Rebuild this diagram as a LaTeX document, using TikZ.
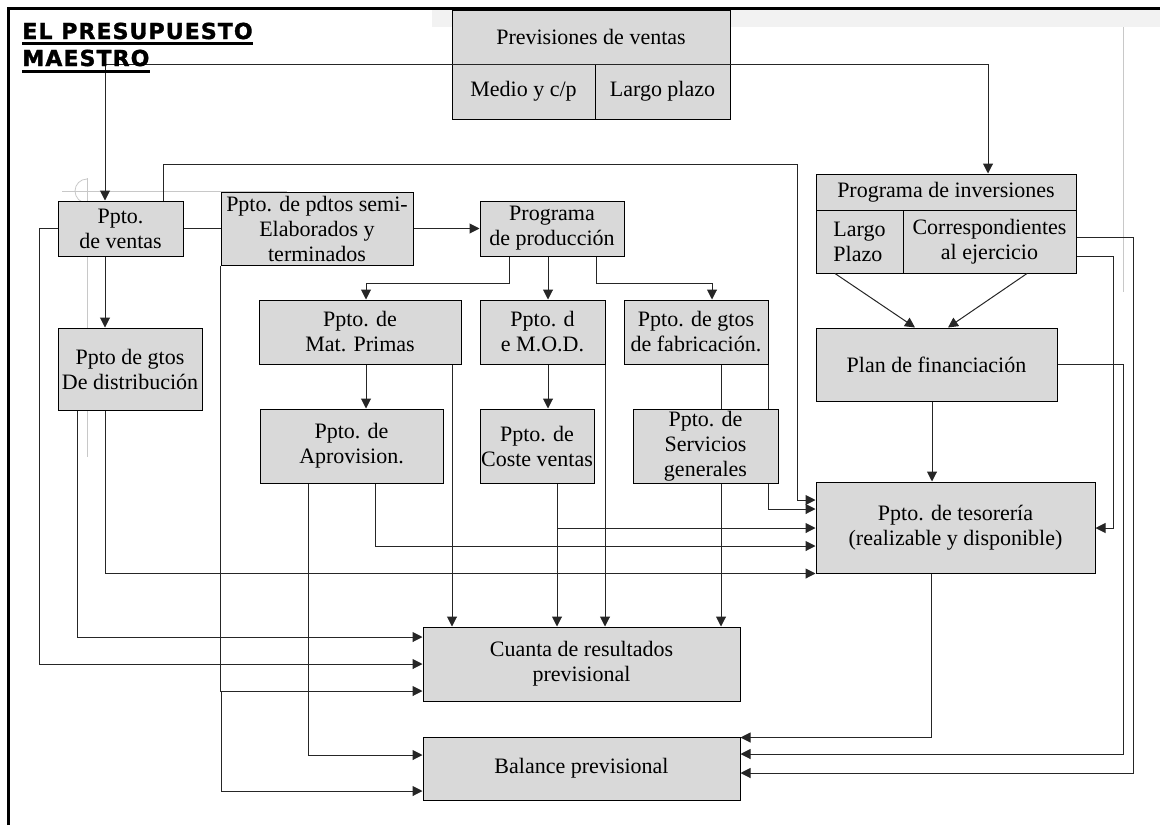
\documentclass[tikz,border=0pt]{standalone}
\usepackage{fontspec}
\setmainfont{Liberation Serif}
\newfontfamily\titulofont{DejaVu Sans Bold}[LetterSpace=5.0, FakeBold=1.5]
\usetikzlibrary{arrows.meta}

\definecolor{gris}{RGB}{217,217,217}
\definecolor{marca}{RGB}{200,200,200}
\newcommand{\textocaja}{\fontsize{11}{12.5}\selectfont}

\tikzset{
  caja/.style 2 args={draw=black, fill=gris, line width=0.5pt, minimum width=#1,
    minimum height=#2, inner sep=0.5pt, align=center, font=\textocaja},
  linea/.style={draw=black!85, line width=0.5pt},
  flecha/.style={linea, -{Triangle[length=5pt,width=5pt]}},
  titulo/.style={anchor=base west, inner sep=0pt,
    font=\titulofont\fontsize{11}{12}\selectfont},
}

\begin{document}
\begin{tikzpicture}[x=0.5pt, y=-0.5pt]
    \useasboundingbox (0,0) rectangle (1160,825);

    % page marks
    \fill[black!5] (432,8) rectangle (1160,27);
    \draw[marca] (1123,27) -- (1123,292);
    \draw[marca] (62,191) -- (287,191);
    \draw[marca] (87,178) -- (87,457);
    \draw[marca] (87,179) arc[start angle=90, end angle=270, radius=6pt];
    \draw[line width=1.5pt] (8,825) -- (8,8) -- (1160,8);

    % boxes
    \node[caja={139pt}{27pt}] (prev) at (591,37) {Previsiones de ventas};
    \node[caja={71.5pt}{27.5pt}] (medio) at (523.5,91.5) {Medio y c/p};
    \node[caja={67.5pt}{27.5pt}] (largo) at (662.5,91.5) {Largo plazo};

    \node[caja={62.5pt}{27.5pt}] (ventas) at (120.5,228.5) {Ppto.\\de ventas};
    \node[caja={96pt}{36.5pt}] (semi) at (317,228.5) {Ppto. de pdtos semi-\\Elaborados y\\terminados};
    \node[caja={72pt}{27.5pt}] (prod) at (552,228.5) {Programa\\de producción};
    \node[caja={72pt}{41pt}] (distr) at (130,369) {Ppto de gtos\\De distribución};

    \node[caja={101pt}{32pt}] (matp) at (360,332) {Ppto. de\\Mat. Primas};
    \node[caja={62.5pt}{32pt}] (mod) at (542.5,332) {Ppto. d\\e M.O.D.};
    \node[caja={72pt}{32pt}] (fabr) at (696,332) {Ppto. de gtos\\de fabricación.};
    \node[caja={91.5pt}{37pt}] (aprov) at (351.5,446) {Ppto. de\\Aprovision.};
    \node[caja={57pt}{37pt}] (coste) at (537,446) {Ppto. de\\Coste ventas};
    \node[caja={72.5pt}{37pt}] (serv) at (705.5,446) {Ppto. de\\Servicios\\generales};

    \node[caja={130pt}{18pt}] (pinv) at (946,192) {Programa de inversiones};
    \node[caja={43.5pt}{31.5pt}, align=left] (lp) at (859.5,241.5) {Largo\\Plazo};
    \node[caja={86.5pt}{31.5pt}] (corr) at (989.5,241.5) {Correspondientes\\al ejercicio};
    \node[caja={120.5pt}{36.5pt}] (plan) at (936.5,364.5) {Plan de financiación};
    \node[caja={139.5pt}{45.5pt}] (teso) at (955.5,527.5) {Ppto. de tesorería\\(realizable y disponible)};

    \node[caja={158.5pt}{37pt}] (cuenta) at (581.5,664) {Cuanta de resultados\\previsional};
    \node[caja={158.5pt}{31.5pt}] (balance) at (581.5,768.5) {Balance previsional};

    % previsiones
    \draw[linea, {Triangle[length=5pt,width=5pt]}-{Triangle[length=5pt,width=5pt]}]
        (ventas.north -| 105,0) -- (105,64) -- (988,64) -- (pinv.north -| 988,0);

    % ventas
    \draw[flecha] (ventas.south -| 105,0) -- (distr.north -| 105,0);
    \draw[flecha] (ventas.north -| 163,0) -- (163,164) -- (797,164) -- (797,500) -- (teso.west |- 0,500);
    \draw[linea] (ventas.east) -- (semi.west);
    \draw[flecha] (ventas.west) -| (39,664) -- (cuenta.west);
    \draw[flecha] (semi.east) -- (prod.west);
    \draw[flecha] (semi.south west) |- (cuenta.west |- 0,691);
    \draw[flecha] (221,691) |- (balance.west |- 0,791);

    % produccion
    \draw[flecha] (prod.south -| 509,0) -- (509,283) -| (matp.north -| 366,0);
    \draw[flecha] (prod.south -| 548,0) -- (mod.north -| 548,0);
    \draw[flecha] (prod.south -| 596,0) -- (596,283) -| (fabr.north -| 712,0);
    \draw[flecha] (matp.south -| 366,0) -- (aprov.north -| 366,0);
    \draw[flecha] (matp.south -| 452,0) -- (cuenta.north -| 452,0);
    \draw[flecha] (mod.south -| 548,0) -- (coste.north -| 548,0);
    \draw[flecha] (mod.south -| 605,0) -- (cuenta.north -| 605,0);
    \draw[linea] (fabr.south -| 721,0) -- (serv.north -| 721,0);
    \draw[flecha] (serv.south -| 721,0) -- (cuenta.north -| 721,0);
    \draw[linea] (fabr.south -| 768,0) -- (serv.north -| 768,0);
    \draw[flecha] (serv.south -| 768,0) |- (teso.west |- 0,509);

    % costes
    \draw[flecha] (coste.south -| 557,0) -- (cuenta.north -| 557,0);
    \draw[flecha] (557,528) -- (teso.west |- 0,528);
    \draw[flecha] (aprov.south -| 375,0) |- (teso.west |- 0,546);
    \draw[flecha] (aprov.south -| 308,0) |- (balance.west |- 0,755);
    \draw[flecha] (distr.south -| 105,0) |- (teso.south west);
    \draw[flecha] (distr.south -| 77,0) |- (cuenta.west |- 0,637);

    % inversiones
    \draw[flecha] (lp.south -| 835,0) -- (plan.north -| 915,0);
    \draw[flecha] (corr.south -| 1027,0) -- (plan.north -| 948,0);
    \draw[flecha] (corr.east |- 0,237) -| (1133,773) -- (balance.east |- 0,773);
    \draw[flecha] (corr.east |- 0,256) -| (1113,528) -- (teso.east |- 0,528);
    \draw[flecha] (plan.east) -| (1123,754) -- (balance.east |- 0,754);
    \draw[flecha] (plan.south -| 932,0) -- (teso.north -| 932,0);
    \draw[flecha] (teso.south -| 931,0) |- ([yshift=-0.5pt]balance.north east);

    % titulo
    \node[titulo] (tit1) at (22,39) {EL PRESUPUESTO};
    \node[titulo] (tit2) at (22,66) {MAESTRO};
    \draw[line width=1.5pt] ([yshift=-2pt]tit1.base west) -- ([yshift=-2pt]tit1.base east);
    \draw[line width=1.5pt] ([yshift=-2.5pt]tit2.base west) -- ([yshift=-2.5pt]tit2.base east);
\end{tikzpicture}
\end{document}
